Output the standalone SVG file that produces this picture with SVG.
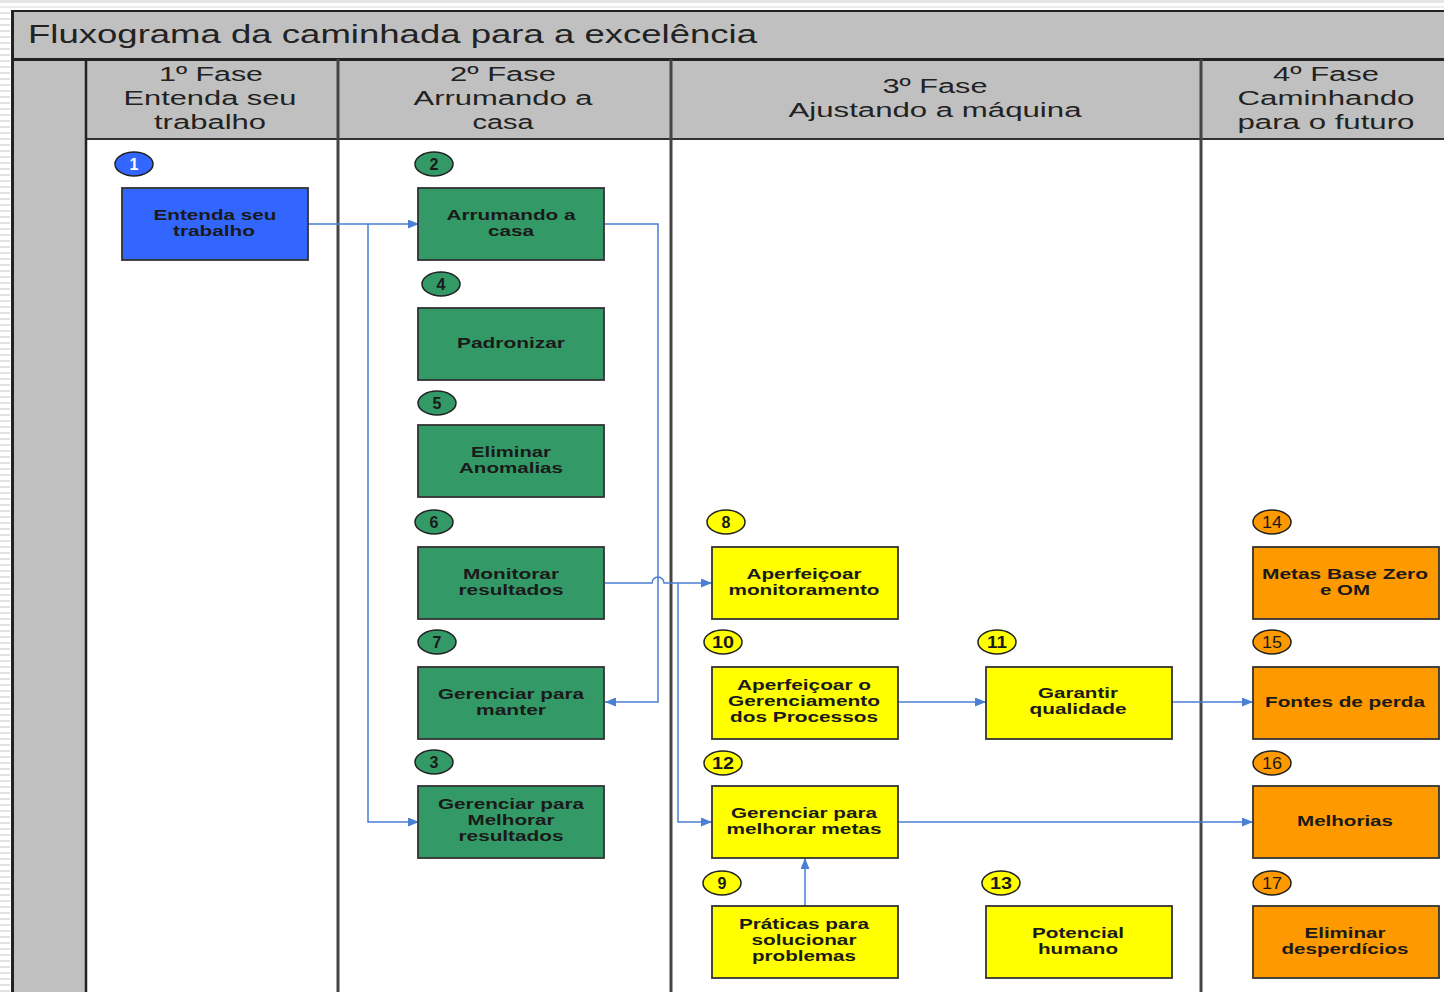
<svg xmlns="http://www.w3.org/2000/svg" width="1444" height="992" viewBox="0 0 1444 992">
<style>
.hdr{font-family:"Liberation Sans",Arial,sans-serif;font-size:20px;fill:#222;text-anchor:middle}
.ttl{font-family:"Liberation Sans",Arial,sans-serif;font-size:25px;fill:#222}
.bt{font-family:"Liberation Sans",Arial,sans-serif;font-size:15px;font-weight:bold;fill:#1a1a1a;text-anchor:middle}
.num{font-family:"Liberation Sans",Arial,sans-serif;font-size:16px;font-weight:bold;fill:#1a1a1a;text-anchor:middle}
.numo{font-family:"Liberation Sans",Arial,sans-serif;font-size:16px;fill:#1a1a1a;text-anchor:middle}
.box{stroke:#333;stroke-width:1.8}
.cir{stroke:#222;stroke-width:1.5}
.blue{fill:#3366ff}.green{fill:#339966}.yellow{fill:#ffff00}.orange{fill:#ff9900}
.conn{fill:none;stroke:#4a7fd4;stroke-width:1.5;marker-end:url(#arr)}
.col{stroke:#444;stroke-width:3}
</style>
<defs>
<marker id="arr" markerUnits="userSpaceOnUse" markerWidth="11" markerHeight="9" refX="11" refY="4.5" orient="auto">
<path d="M0,0 L11,4.5 L0,9 z" fill="#4a7fd4"/>
</marker>
<pattern id="stripes" width="10" height="6" patternUnits="userSpaceOnUse">
<rect width="10" height="6" fill="#fff"/>
<rect y="0" width="10" height="2" fill="#e2e2e2"/>
</pattern>
</defs>
<rect width="1444" height="992" fill="#fff"/>
<g id="frame">
<rect x="0" y="0" width="10" height="992" fill="url(#stripes)"/>
<rect x="0" y="0" width="1444" height="3" fill="#e6e6e6"/>
<rect x="0" y="6" width="1444" height="2" fill="#ececec"/>
<rect x="11" y="11" width="1433" height="48" fill="#c0c0c0"/>
<rect x="11" y="59" width="75" height="933" fill="#c0c0c0"/>
<rect x="86" y="59" width="1358" height="80" fill="#c0c0c0"/>
<line x1="11" y1="11" x2="1444" y2="11" stroke="#222" stroke-width="2"/>
<line x1="11" y1="59.5" x2="1444" y2="59.5" stroke="#222" stroke-width="3"/>
<line x1="86" y1="139" x2="1444" y2="139" stroke="#333" stroke-width="2"/>
<line x1="12.5" y1="10" x2="12.5" y2="992" stroke="#222" stroke-width="3"/>
<line x1="86" y1="59" x2="86" y2="992" stroke="#222" stroke-width="2.5"/>
<line class="col" x1="338" y1="59" x2="338" y2="992"/>
<line class="col" x1="671" y1="59" x2="671" y2="992"/>
<line class="col" x1="1201" y1="59" x2="1201" y2="992"/>
<text class="ttl" x="28" y="43" textLength="729" lengthAdjust="spacingAndGlyphs">Fluxograma da caminhada para a excelência</text>
</g>
<g id="headers">
<text class="hdr" x="211" y="81" textLength="104" lengthAdjust="spacingAndGlyphs">1º Fase</text>
<text class="hdr" x="210" y="105" textLength="173" lengthAdjust="spacingAndGlyphs">Entenda seu</text>
<text class="hdr" x="210" y="129" textLength="112" lengthAdjust="spacingAndGlyphs">trabalho</text>
<text class="hdr" x="503" y="81" textLength="106" lengthAdjust="spacingAndGlyphs">2º Fase</text>
<text class="hdr" x="503" y="105" textLength="179" lengthAdjust="spacingAndGlyphs">Arrumando a</text>
<text class="hdr" x="503" y="129" textLength="61" lengthAdjust="spacingAndGlyphs">casa</text>
<text class="hdr" x="935" y="93" textLength="105" lengthAdjust="spacingAndGlyphs">3º Fase</text>
<text class="hdr" x="935" y="117" textLength="293" lengthAdjust="spacingAndGlyphs">Ajustando a máquina</text>
<text class="hdr" x="1326" y="81" textLength="106" lengthAdjust="spacingAndGlyphs">4º Fase</text>
<text class="hdr" x="1326" y="105" textLength="177" lengthAdjust="spacingAndGlyphs">Caminhando</text>
<text class="hdr" x="1326" y="129" textLength="177" lengthAdjust="spacingAndGlyphs">para o futuro</text>
</g>
<g id="connectors">
<path class="conn" d="M308,224 H419"/>
<path class="conn" d="M368,224 V822 H419"/>
<path class="conn" d="M605,224 H658 V702 H605"/>
<path class="conn" d="M605,583 H652 A6,6 0 0 1 664,583 H712"/>
<path class="conn" d="M678,583 V822 H712"/>
<path class="conn" d="M898,702 H986"/>
<path class="conn" d="M1172,702 H1253"/>
<path class="conn" d="M898,822 H1253"/>
<path class="conn" d="M805,906 V858"/>
</g>
<g id="n1">
<ellipse class="cir blue" cx="134" cy="164" rx="19" ry="12"/>
<text class="num" x="134" y="170" style="fill:#fff">1</text>
<rect class="box blue" x="122" y="188" width="186" height="72"/>
<text class="bt" x="215" y="220" textLength="123" lengthAdjust="spacingAndGlyphs">Entenda seu</text>
<text class="bt" x="214" y="236" textLength="82" lengthAdjust="spacingAndGlyphs">trabalho</text>
</g>
<g id="n2">
<ellipse class="cir green" cx="434" cy="164" rx="19" ry="12"/>
<text class="num" x="434" y="170">2</text>
<rect class="box green" x="418" y="188" width="186" height="72"/>
<text class="bt" x="511" y="220" textLength="129" lengthAdjust="spacingAndGlyphs">Arrumando a</text>
<text class="bt" x="511" y="236" textLength="46" lengthAdjust="spacingAndGlyphs">casa</text>
</g>
<g id="n4">
<ellipse class="cir green" cx="441" cy="284" rx="19" ry="12"/>
<text class="num" x="441" y="290">4</text>
<rect class="box green" x="418" y="308" width="186" height="72"/>
<text class="bt" x="511" y="348" textLength="108" lengthAdjust="spacingAndGlyphs">Padronizar</text>
</g>
<g id="n5">
<ellipse class="cir green" cx="437" cy="403" rx="19" ry="12"/>
<text class="num" x="437" y="409">5</text>
<rect class="box green" x="418" y="425" width="186" height="72"/>
<text class="bt" x="511" y="457" textLength="80" lengthAdjust="spacingAndGlyphs">Eliminar</text>
<text class="bt" x="511" y="473" textLength="104" lengthAdjust="spacingAndGlyphs">Anomalias</text>
</g>
<g id="n6">
<ellipse class="cir green" cx="434" cy="522" rx="19" ry="12"/>
<text class="num" x="434" y="528">6</text>
<rect class="box green" x="418" y="547" width="186" height="72"/>
<text class="bt" x="511" y="579" textLength="96" lengthAdjust="spacingAndGlyphs">Monitorar</text>
<text class="bt" x="511" y="595" textLength="105" lengthAdjust="spacingAndGlyphs">resultados</text>
</g>
<g id="n7">
<ellipse class="cir green" cx="437" cy="642" rx="19" ry="12"/>
<text class="num" x="437" y="648">7</text>
<rect class="box green" x="418" y="667" width="186" height="72"/>
<text class="bt" x="511" y="699" textLength="146" lengthAdjust="spacingAndGlyphs">Gerenciar para</text>
<text class="bt" x="511" y="715" textLength="70" lengthAdjust="spacingAndGlyphs">manter</text>
</g>
<g id="n3">
<ellipse class="cir green" cx="434" cy="762" rx="19" ry="12"/>
<text class="num" x="434" y="768">3</text>
<rect class="box green" x="418" y="786" width="186" height="72"/>
<text class="bt" x="511" y="809" textLength="146" lengthAdjust="spacingAndGlyphs">Gerenciar para</text>
<text class="bt" x="511" y="825" textLength="87" lengthAdjust="spacingAndGlyphs">Melhorar</text>
<text class="bt" x="511" y="841" textLength="105" lengthAdjust="spacingAndGlyphs">resultados</text>
</g>
<g id="n8">
<ellipse class="cir yellow" cx="726" cy="522" rx="19" ry="12"/>
<text class="num" x="726" y="528">8</text>
<rect class="box yellow" x="712" y="547" width="186" height="72"/>
<text class="bt" x="804" y="579" textLength="115" lengthAdjust="spacingAndGlyphs">Aperfeiçoar</text>
<text class="bt" x="804" y="595" textLength="151" lengthAdjust="spacingAndGlyphs">monitoramento</text>
</g>
<g id="n10">
<ellipse class="cir yellow" cx="723" cy="642" rx="19" ry="12"/>
<text class="num" x="723" y="648" textLength="22" lengthAdjust="spacingAndGlyphs">10</text>
<rect class="box yellow" x="712" y="667" width="186" height="72"/>
<text class="bt" x="804" y="690" textLength="134" lengthAdjust="spacingAndGlyphs">Aperfeiçoar o</text>
<text class="bt" x="804" y="706" textLength="152" lengthAdjust="spacingAndGlyphs">Gerenciamento</text>
<text class="bt" x="804" y="722" textLength="148" lengthAdjust="spacingAndGlyphs">dos Processos</text>
</g>
<g id="n11">
<ellipse class="cir yellow" cx="997" cy="642" rx="19" ry="12"/>
<text class="num" x="997" y="648" textLength="20" lengthAdjust="spacingAndGlyphs">11</text>
<rect class="box yellow" x="986" y="667" width="186" height="72"/>
<text class="bt" x="1078" y="698" textLength="80" lengthAdjust="spacingAndGlyphs">Garantir</text>
<text class="bt" x="1078" y="714" textLength="97" lengthAdjust="spacingAndGlyphs">qualidade</text>
</g>
<g id="n12">
<ellipse class="cir yellow" cx="723" cy="763" rx="19" ry="12"/>
<text class="num" x="723" y="769" textLength="22" lengthAdjust="spacingAndGlyphs">12</text>
<rect class="box yellow" x="712" y="786" width="186" height="72"/>
<text class="bt" x="804" y="818" textLength="146" lengthAdjust="spacingAndGlyphs">Gerenciar para</text>
<text class="bt" x="804" y="834" textLength="155" lengthAdjust="spacingAndGlyphs">melhorar metas</text>
</g>
<g id="n9">
<ellipse class="cir yellow" cx="722" cy="883" rx="19" ry="12"/>
<text class="num" x="722" y="889">9</text>
<rect class="box yellow" x="712" y="906" width="186" height="72"/>
<text class="bt" x="804" y="929" textLength="130" lengthAdjust="spacingAndGlyphs">Práticas para</text>
<text class="bt" x="804" y="945" textLength="105" lengthAdjust="spacingAndGlyphs">solucionar</text>
<text class="bt" x="804" y="961" textLength="104" lengthAdjust="spacingAndGlyphs">problemas</text>
</g>
<g id="n13">
<ellipse class="cir yellow" cx="1001" cy="883" rx="19" ry="12"/>
<text class="num" x="1001" y="889" textLength="22" lengthAdjust="spacingAndGlyphs">13</text>
<rect class="box yellow" x="986" y="906" width="186" height="72"/>
<text class="bt" x="1078" y="938" textLength="92" lengthAdjust="spacingAndGlyphs">Potencial</text>
<text class="bt" x="1078" y="954" textLength="80" lengthAdjust="spacingAndGlyphs">humano</text>
</g>
<g id="n14">
<ellipse class="cir orange" cx="1272" cy="522" rx="19" ry="12"/>
<text class="numo" x="1272" y="528" textLength="20" lengthAdjust="spacingAndGlyphs">14</text>
<rect class="box orange" x="1253" y="547" width="186" height="72"/>
<text class="bt" x="1345" y="579" textLength="166" lengthAdjust="spacingAndGlyphs">Metas Base Zero</text>
<text class="bt" x="1345" y="595" textLength="50" lengthAdjust="spacingAndGlyphs">e OM</text>
</g>
<g id="n15">
<ellipse class="cir orange" cx="1272" cy="642" rx="19" ry="12"/>
<text class="numo" x="1272" y="648" textLength="20" lengthAdjust="spacingAndGlyphs">15</text>
<rect class="box orange" x="1253" y="667" width="186" height="72"/>
<text class="bt" x="1345" y="707" textLength="160" lengthAdjust="spacingAndGlyphs">Fontes de perda</text>
</g>
<g id="n16">
<ellipse class="cir orange" cx="1272" cy="763" rx="19" ry="12"/>
<text class="numo" x="1272" y="769" textLength="20" lengthAdjust="spacingAndGlyphs">16</text>
<rect class="box orange" x="1253" y="786" width="186" height="72"/>
<text class="bt" x="1345" y="826" textLength="96" lengthAdjust="spacingAndGlyphs">Melhorias</text>
</g>
<g id="n17">
<ellipse class="cir orange" cx="1272" cy="883" rx="19" ry="12"/>
<text class="numo" x="1272" y="889" textLength="20" lengthAdjust="spacingAndGlyphs">17</text>
<rect class="box orange" x="1253" y="906" width="186" height="72"/>
<text class="bt" x="1345" y="938" textLength="81" lengthAdjust="spacingAndGlyphs">Eliminar</text>
<text class="bt" x="1345" y="954" textLength="127" lengthAdjust="spacingAndGlyphs">desperdícios</text>
</g>
</svg>
